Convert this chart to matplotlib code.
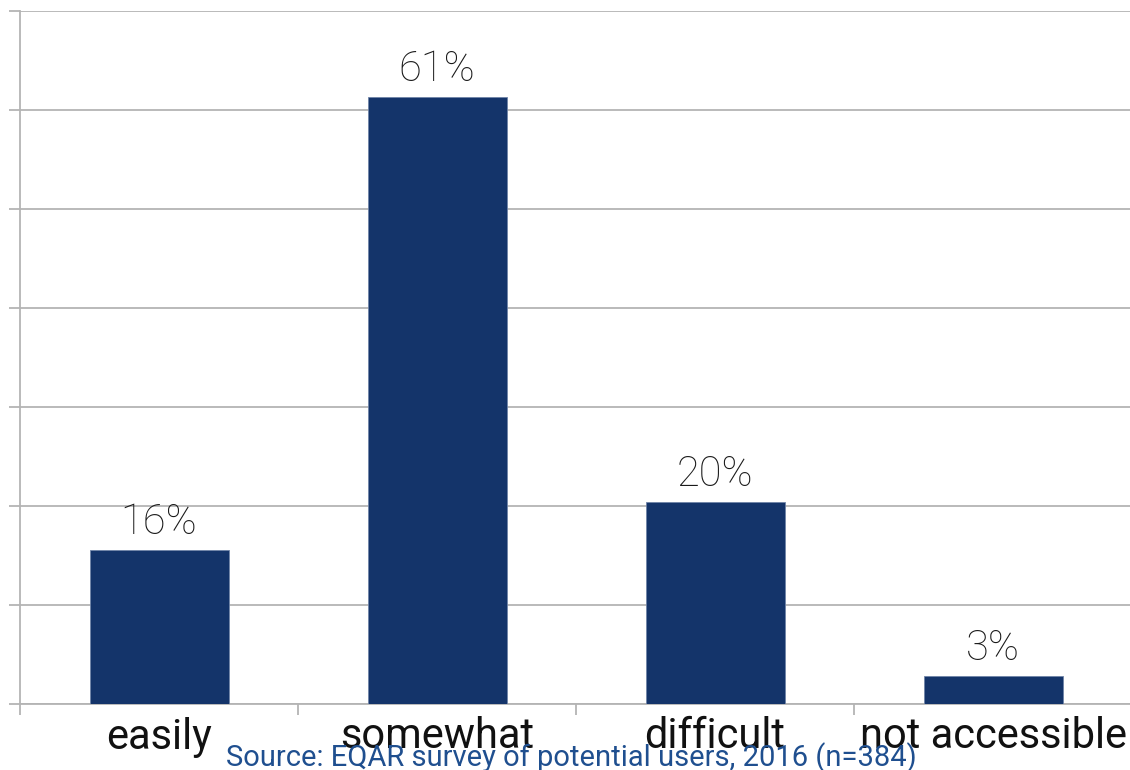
import matplotlib.pyplot as plt
from matplotlib.ticker import MultipleLocator, FixedLocator

# data
categories = ["easily", "somewhat", "difficult", "not accessible"]
shares = [15.6, 61.3, 20.4, 2.8]
labels = ["16%", "61%", "20%", "3%"]

bar_color = "#14346a"
grid_color = "#b4b4b4"

fig = plt.figure(figsize=(11.3, 7.7), dpi=100)
ax = fig.add_axes([20 / 1130, 1 - 704 / 770, 1112 / 1130, 693 / 770])

x = range(len(categories))
bars = ax.bar(x, shares, width=0.5, color=bar_color, edgecolor="#6f84a8", linewidth=0.6, zorder=3)

for b, lab in zip(bars, labels):
    ax.annotate(lab, (b.get_x() + b.get_width() / 2, b.get_height()),
                xytext=(0, 5), textcoords="offset points", ha="center", va="bottom",
                fontsize=30, family="Roboto", fontweight="light", color="#1a1a1a")

ax.set_xlim(-0.5, 3.5)
ax.set_ylim(0, 70)
ax.yaxis.set_major_locator(MultipleLocator(10))
ax.yaxis.grid(True, color=grid_color, linewidth=1.3, zorder=0)
ax.set_yticklabels([])
ax.tick_params(axis="y", length=8, width=1.3, color=grid_color)

ax.set_xticks(list(x))
ax.set_xticklabels(categories, fontsize=30, family="Roboto", color="#111111")
ax.tick_params(axis="x", which="major", length=0, pad=9)
ax.xaxis.set_minor_locator(FixedLocator([-0.5, 0.5, 1.5, 2.5, 3.5]))
ax.tick_params(axis="x", which="minor", length=8, width=1.3, color=grid_color)

for s in ["top", "right"]:
    ax.spines[s].set_visible(False)
for s in ["left", "bottom"]:
    ax.spines[s].set_color(grid_color)
    ax.spines[s].set_linewidth(1.3)

fig.text(571 / 1130, 4 / 770, "Source: EQAR survey of potential users, 2016 (n=384)",
         ha="center", va="baseline", fontsize=21, family="Roboto", color="#1f4f8f")

fig.savefig("out.png", dpi=100)
